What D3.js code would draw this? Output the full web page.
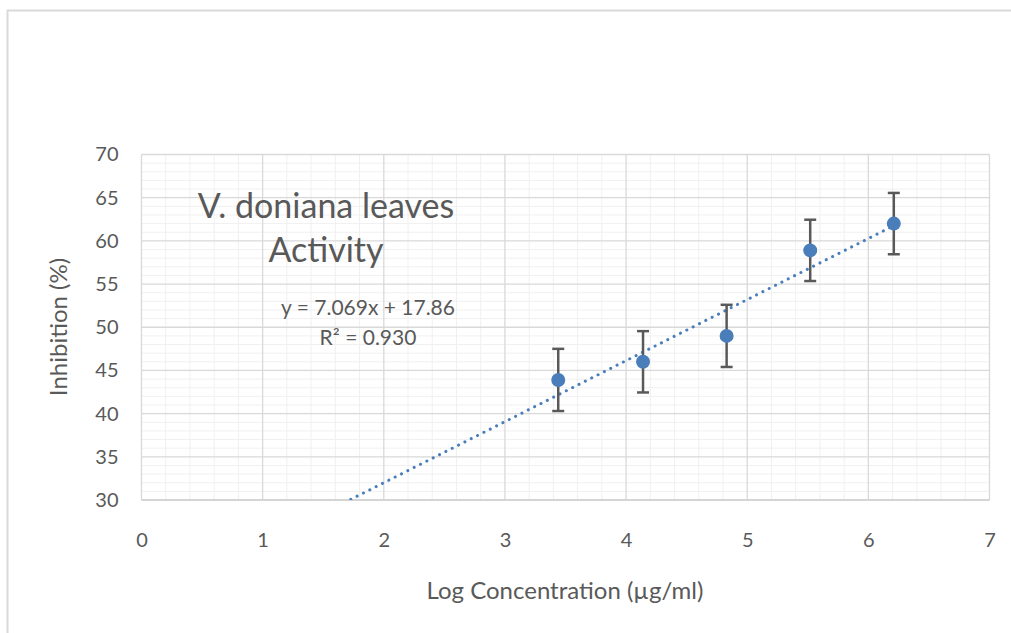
<!DOCTYPE html>
<html>
<head>
<meta charset="utf-8">
<script src="https://cdn.jsdelivr.net/npm/d3@7"></script>
<style>
  html, body { margin: 0; padding: 0; background: #fff; }
  svg { display: block; }
  text { font-family: Lato, "Open Sans", sans-serif; fill: #595959; }
</style>
</head>
<body>
<svg id="chart" width="1011" height="633"></svg>
<script>
// Log concentration (ln of µg/ml) and mean inhibition with error margins
const logConc = [3.44, 4.14, 4.83, 5.52, 6.21];
const inhibition = [43.9, 46.0, 49.0, 58.9, 62.0];
const errorMargin = [3.6, 3.55, 3.6, 3.55, 3.55];

const xTicks = [0, 1, 2, 3, 4, 5, 6, 7];
const yTicks = [30, 35, 40, 45, 50, 55, 60, 65, 70];

const trendSlope = 7.069;
const trendIntercept = 17.86;
const trendLabel = "y = 7.069x + 17.86";
const r2Label = "R² = 0.930";

const titleLines = ["V. doniana leaves", "Activity"];
const xTitle = "Log Concentration (µg/ml)";
const yTitle = "Inhibition (%)";

const svg = d3.select("#chart");

// outer frame (top and left edges)
svg.append("path")
  .attr("d", "M7.5,633 V10.5 H1011")
  .attr("fill", "none")
  .attr("stroke", "#d9d9d9")
  .attr("stroke-width", 2);

const plot = { left: 141.5, right: 989.5, top: 154.5, bottom: 500 };

const x = d3.scaleLinear().domain([0, 7]).range([plot.left, plot.right]);
const y = d3.scaleLinear().domain([30, 70]).range([plot.bottom, plot.top]);

// minor gridlines
const minorX = d3.range(0, 7.0001, 0.2).filter(v => Math.abs(v - Math.round(v)) > 1e-6);
const minorY = d3.range(30, 70.0001, 1).filter(v => v % 5 !== 0);

const grid = svg.append("g");
grid.selectAll(".mx").data(minorX).join("line")
  .attr("x1", d => x(d)).attr("x2", d => x(d))
  .attr("y1", plot.top).attr("y2", plot.bottom)
  .attr("stroke", "#f0f0f0").attr("stroke-width", 1);
grid.selectAll(".my").data(minorY).join("line")
  .attr("x1", plot.left).attr("x2", plot.right)
  .attr("y1", d => y(d)).attr("y2", d => y(d))
  .attr("stroke", "#f0f0f0").attr("stroke-width", 1);

// major gridlines
grid.selectAll(".MX").data(xTicks).join("line")
  .attr("x1", d => x(d)).attr("x2", d => x(d))
  .attr("y1", plot.top).attr("y2", plot.bottom)
  .attr("stroke", "#d9d9d9").attr("stroke-width", 1.3);
grid.selectAll(".MY").data(yTicks).join("line")
  .attr("x1", plot.left).attr("x2", plot.right)
  .attr("y1", d => y(d)).attr("y2", d => y(d))
  .attr("stroke", "#d9d9d9").attr("stroke-width", 1.3);

// axes (labels only)
const xAxis = svg.append("g")
  .attr("transform", `translate(0,${plot.bottom})`)
  .call(d3.axisBottom(x).tickValues(xTicks).tickSize(0).tickPadding(33).tickFormat(d3.format("d")));
const yAxis = svg.append("g")
  .attr("transform", `translate(${plot.left},0)`)
  .call(d3.axisLeft(y).tickValues(yTicks).tickSize(0).tickPadding(23).tickFormat(d3.format("d")));
[xAxis, yAxis].forEach(a => {
  a.select(".domain").remove();
  a.selectAll("text").attr("font-size", 20).attr("fill", "#595959")
    .style("font-family", "Lato, sans-serif");
});
// bottom axis line
svg.append("line")
  .attr("x1", plot.left).attr("x2", plot.right)
  .attr("y1", plot.bottom).attr("y2", plot.bottom)
  .attr("stroke", "#d0d0d0").attr("stroke-width", 1.5);

// clip region for the trendline
svg.append("clipPath").attr("id", "plotClip")
  .append("rect")
  .attr("x", plot.left).attr("y", plot.top)
  .attr("width", plot.right - plot.left).attr("height", plot.bottom - plot.top);

// linear trendline, extended backward to the axis floor
const trendX = [0, d3.max(logConc)];
const trendLine = d3.line()
  .x(d => x(d))
  .y(d => y(trendSlope * d + trendIntercept));
svg.append("path")
  .datum(trendX)
  .attr("clip-path", "url(#plotClip)")
  .attr("d", trendLine)
  .attr("fill", "none")
  .attr("stroke", "#4a7ebb")
  .attr("stroke-width", 3)
  .attr("stroke-linecap", "round")
  .attr("stroke-dasharray", "0.1 7");

// data
const data = logConc.map((v, i) => ({ x: v, y: inhibition[i], e: errorMargin[i] }));

// error bars
const eb = svg.append("g").attr("stroke", "#595959").attr("stroke-width", 2.5);
const capHalf = 6;
data.forEach(d => {
  eb.append("line").attr("x1", x(d.x)).attr("x2", x(d.x))
    .attr("y1", y(d.y + d.e)).attr("y2", y(d.y - d.e));
  eb.append("line").attr("x1", x(d.x) - capHalf).attr("x2", x(d.x) + capHalf)
    .attr("y1", y(d.y + d.e)).attr("y2", y(d.y + d.e));
  eb.append("line").attr("x1", x(d.x) - capHalf).attr("x2", x(d.x) + capHalf)
    .attr("y1", y(d.y - d.e)).attr("y2", y(d.y - d.e));
});

// markers
svg.append("g").selectAll("circle").data(data).join("circle")
  .attr("cx", d => x(d.x)).attr("cy", d => y(d.y))
  .attr("r", 7)
  .attr("fill", "#4a7ebb");

// chart title inside plot
svg.append("g").selectAll("text").data(titleLines).join("text")
  .attr("x", 326).attr("y", (d, i) => 218 + i * 44)
  .attr("text-anchor", "middle")
  .attr("font-size", 34)
  .text(d => d);

// trendline equation
svg.append("text").attr("x", 368).attr("y", 315)
  .attr("text-anchor", "middle").attr("font-size", 21).text(trendLabel);
svg.append("text").attr("x", 368).attr("y", 345)
  .attr("text-anchor", "middle").attr("font-size", 21).text(r2Label);

// axis titles
svg.append("text").attr("x", 565).attr("y", 599)
  .attr("text-anchor", "middle").attr("font-size", 24).text(xTitle);
svg.append("text")
  .attr("transform", "translate(67,327) rotate(-90)")
  .attr("text-anchor", "middle").attr("font-size", 24).text(yTitle);
</script>
</body>
</html>
